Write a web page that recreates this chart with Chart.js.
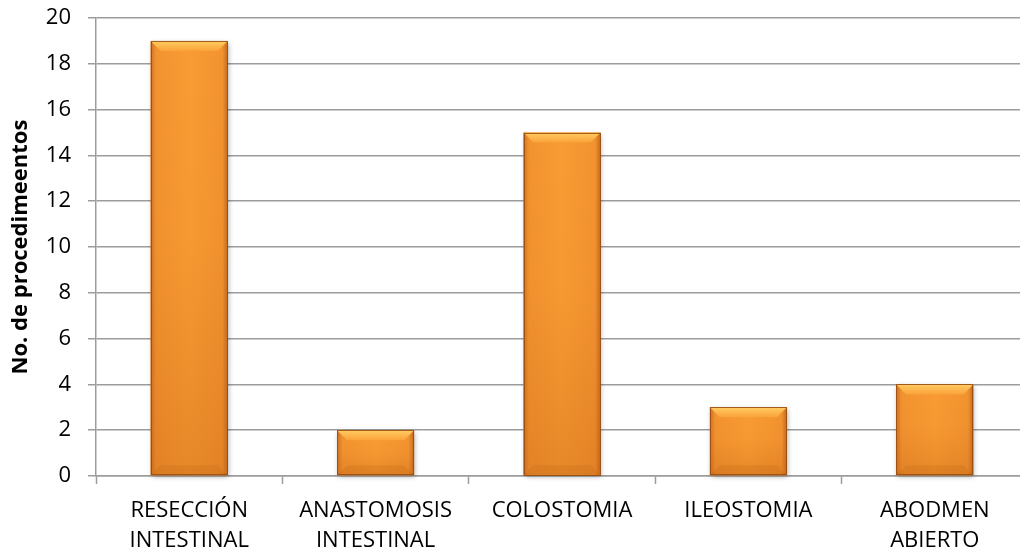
<!DOCTYPE html>
<html>
<head>
<meta charset="utf-8">
<script src="https://cdn.jsdelivr.net/npm/chart.js@4/dist/chart.umd.min.js"></script>
<style>
  html, body { margin: 0; padding: 0; background: #fff; overflow: hidden; }
  #wrap { width: 1030px; height: 556px; position: relative; }
</style>
</head>
<body>
<div id="wrap"><canvas id="chart"></canvas></div>
<script>
// Procedimientos quirúrgicos realizados
const categories = [
  ['RESECCIÓN', 'INTESTINAL'],
  ['ANASTOMOSIS', 'INTESTINAL'],
  'COLOSTOMIA',
  'ILEOSTOMIA',
  ['ABODMEN', 'ABIERTO']
];
const procedimientos = [19, 2, 15, 3, 4];
const yMin = 0, yMax = 20, yStep = 2;
const BAR_PCT = 0.413;

// Body gradient of each bar: darker at the sides
function barFill(ctx) {
  const chart = ctx.chart;
  const xs = chart.scales && chart.scales.x;
  if (!xs || ctx.dataIndex === undefined) return '#F7962F';
  const cx = xs.getPixelForValue(ctx.dataIndex);
  const w = xs.width / categories.length * BAR_PCT;
  if (!isFinite(cx) || !isFinite(w) || w <= 0) return '#F7962F';
  const left = cx - w / 2, right = cx + w / 2;
  const g = chart.ctx.createLinearGradient(left, 0, right, 0);
  g.addColorStop(0, '#CF7223');
  g.addColorStop(0.07, '#F29330');
  g.addColorStop(0.5, '#F99C33');
  g.addColorStop(0.93, '#F29330');
  g.addColorStop(1, '#C46A1F');
  return g;
}

// Drop shadow behind the bars, then bevel highlights on top of them
const bevel = {
  id: 'bevel',
  beforeDatasetsDraw(chart) {
    const c = chart.ctx;
    chart.getDatasetMeta(0).data.forEach(el => {
      const l = el.x - el.width / 2, t = el.y, b = el.base;
      if (![l, t, b, el.width].every(isFinite)) return;
      c.save();
      c.shadowColor = 'rgba(0,0,0,0.35)';
      c.shadowBlur = 5;
      c.shadowOffsetX = 1;
      c.shadowOffsetY = 2;
      c.fillStyle = '#D07424';
      c.fillRect(l, t, el.width, b - t);
      c.restore();
    });
  },
  afterDatasetsDraw(chart) {
    const c = chart.ctx;
    chart.getDatasetMeta(0).data.forEach(el => {
      const l = el.x - el.width / 2, r = el.x + el.width / 2;
      const t = el.y, b = el.base;
      if (![l, r, t, b].every(isFinite)) return;
      const d = Math.min(10, (b - t) / 3);
      c.save();
      // lower darkening
      let g = c.createLinearGradient(0, t, 0, b);
      g.addColorStop(0, 'rgba(200,100,20,0)');
      g.addColorStop(0.45, 'rgba(200,100,20,0.05)');
      g.addColorStop(1, 'rgba(190,90,15,0.30)');
      c.fillStyle = g;
      c.fillRect(l, t, r - l, b - t);
      // top bevel
      g = c.createLinearGradient(0, t, 0, t + d);
      g.addColorStop(0, '#FFCD62');
      g.addColorStop(1, '#FAA23A');
      c.fillStyle = g;
      c.beginPath();
      c.moveTo(l, t); c.lineTo(r, t); c.lineTo(r - d, t + d); c.lineTo(l + d, t + d);
      c.closePath(); c.fill();
      // bottom bevel
      c.fillStyle = 'rgba(170,85,15,0.15)';
      c.beginPath();
      c.moveTo(l, b); c.lineTo(r, b); c.lineTo(r - d, b - d); c.lineTo(l + d, b - d);
      c.closePath(); c.fill();
      // outline
      c.strokeStyle = 'rgba(150,75,15,0.85)';
      c.lineWidth = 1;
      c.strokeRect(Math.round(l) + 0.5, Math.round(t) + 0.5, Math.round(r - l) - 1, Math.round(b - t) - 1);
      c.restore();
    });
  }
};

new Chart(document.getElementById('chart'), {
  type: 'bar',
  data: {
    labels: categories,
    datasets: [{
      data: procedimientos,
      backgroundColor: barFill,
      borderWidth: 0,
      categoryPercentage: 1,
      barPercentage: BAR_PCT
    }]
  },
  options: {
    responsive: true,
    maintainAspectRatio: false,
    animation: false,
    layout: { padding: { top: 18, right: 2, left: 0, bottom: 0 } },
    plugins: { legend: { display: false }, tooltip: { enabled: false } },
    scales: {
      x: {
        grid: {
          drawOnChartArea: false,
          drawTicks: true,
          tickLength: 8,
          tickColor: '#9c9c9c',
          tickWidth: 1.5
        },
        border: { color: '#9c9c9c', width: 1.5 },
        ticks: {
          color: '#000',
          padding: 11,
          maxRotation: 0,
          autoSkip: false,
          font: { family: 'Open Sans', size: 22, lineHeight: 1.4 }
        },
        afterFit(scale) { scale.height = 80; }
      },
      y: {
        min: yMin,
        max: yMax,
        ticks: {
          stepSize: yStep,
          color: '#000',
          padding: 17,
          font: { family: 'Open Sans', size: 22 }
        },
        grid: {
          color: '#9c9c9c',
          lineWidth: 1.5,
          tickLength: 8,
          tickColor: '#9c9c9c'
        },
        border: { color: '#9c9c9c', width: 1.5 },
        title: {
          display: true,
          text: 'No. de procedimeentos',
          color: '#000',
          padding: { top: 8, bottom: 0 },
          font: { family: 'Open Sans', size: 22, weight: 'bold' }
        },
        afterFit(scale) {
          scale.width = 96;
          scale.paddingTop = 0;
          scale.paddingBottom = 0;
        }
      }
    }
  },
  plugins: [bevel]
});
</script>
</body>
</html>
